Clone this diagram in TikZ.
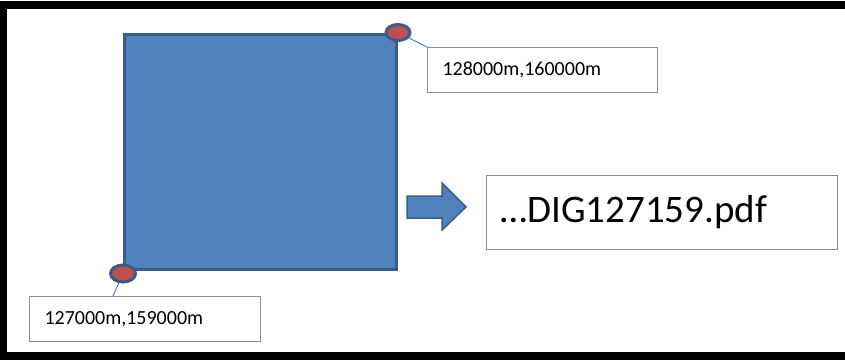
\documentclass[tikz,border=0pt]{standalone}
\usepackage{fontspec}
\setmainfont{Carlito}
\usepackage{tikz}
\usetikzlibrary{shapes,arrows,positioning}

\definecolor{tileblue}{HTML}{4F81BD}
\definecolor{tileborder}{HTML}{385D8A}
\definecolor{cornerred}{HTML}{C0504D}
\definecolor{boxgray}{HTML}{8C8C8C}

\begin{document}
\begin{tikzpicture}[x=1pt, y=-1pt]
  \tikzstyle{tile} = [rectangle, draw=tileborder, line width=3pt, fill=tileblue, minimum width=272pt, minimum height=235pt, inner sep=0pt]
  \tikzstyle{corner} = [ellipse, draw=tileborder, line width=3pt, fill=cornerred, minimum width=24pt, minimum height=16pt, inner sep=0pt]
  \tikzstyle{coordbox} = [rectangle, draw=boxgray, line width=1pt, fill=white, anchor=north west, align=left, inner ysep=0pt]
  \tikzstyle{lead} = [draw=tileblue, line width=1pt]

  \useasboundingbox (0,0) rectangle (845,360);
  % black frame, open on the right
  \fill[black] (0,1) rectangle (845,9);
  \fill[black] (0,1) rectangle (7,360);
  \fill[black] (0,352) rectangle (845,360);

  \node [tile] (tile) at (260.5,151.5) {};
  \node [corner] (ne) at (tile.north east) {};
  \node [corner, minimum width=25pt, minimum height=17pt] (sw) at ([yshift=-3pt]tile.south west) {};

  \node [coordbox, minimum width=230pt, minimum height=45pt, text width=200pt, inner xsep=15pt] (nebox) at (427,47) {\fontsize{20}{24}\selectfont 128000m,160000m};
  \node [coordbox, minimum width=231pt, minimum height=45pt, text width=201pt, inner xsep=15pt] (swbox) at (29,296) {\fontsize{20}{24}\selectfont 127000m,159000m};
  \node [coordbox, minimum width=351pt, minimum height=74pt, text width=323pt, inner xsep=14pt] (file) at (486,175) {\fontsize{39}{47}\selectfont …DIG127159.pdf};

  \path [lead] (ne) -- (nebox.north west);
  \path [lead] (sw) -- ([xshift=84pt]swbox.north west);

  % block arrow from the tile to the file name
  \coordinate (tail) at (407,207);
  \filldraw [fill=tileblue, draw=tileborder, line width=1.5pt]
    (tail) ++(0,-11) -- ++(35,0) -- ++(0,-13) -- (466,207) -- (442,230) -- ++(0,-12) -- ++(-35,0) -- cycle;
\end{tikzpicture}
\end{document}
